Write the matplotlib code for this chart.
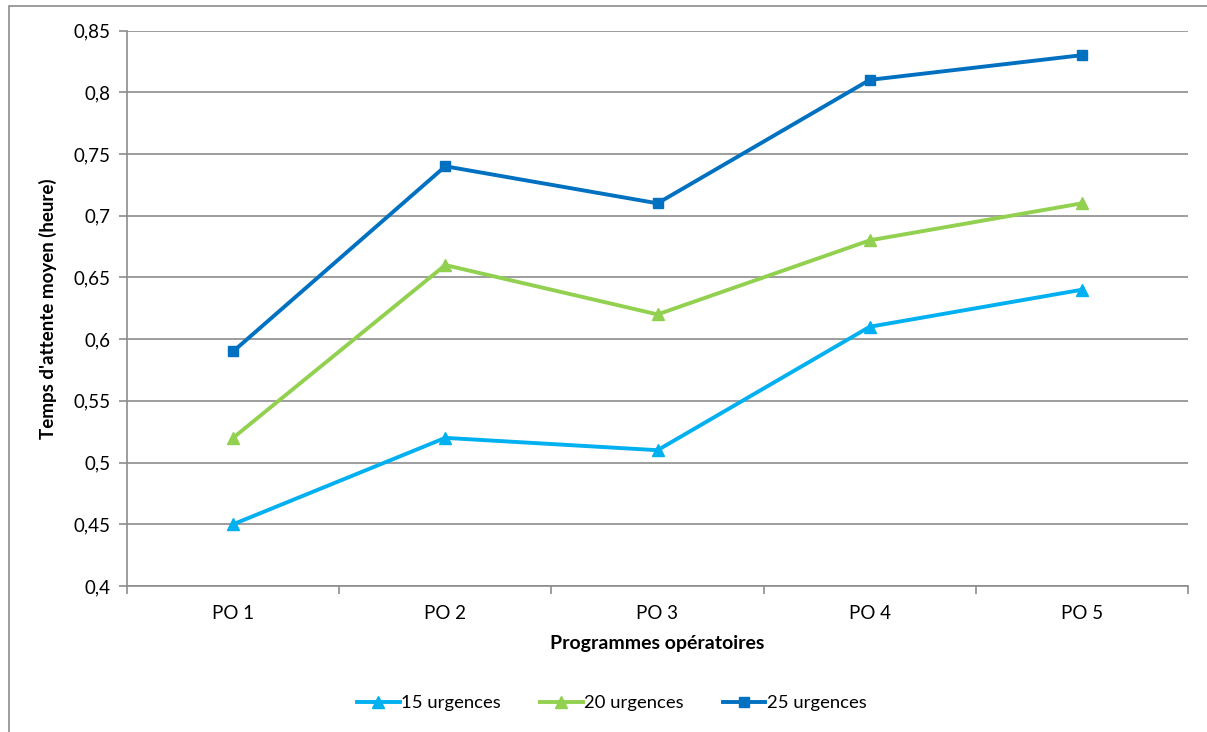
import matplotlib.pyplot as plt
from matplotlib.patches import Rectangle
from matplotlib.ticker import FixedLocator, FuncFormatter

plt.rcParams['font.family'] = ['Lato', 'DejaVu Sans']

# données
categories = ["PO 1", "PO 2", "PO 3", "PO 4", "PO 5"]
urg15 = [0.45, 0.52, 0.51, 0.61, 0.64]
urg20 = [0.52, 0.66, 0.62, 0.68, 0.71]
urg25 = [0.59, 0.74, 0.71, 0.81, 0.83]
series_names = ["15 urgences", "20 urgences", "25 urgences"]
y_ticks = [0.4, 0.45, 0.5, 0.55, 0.6, 0.65, 0.7, 0.75, 0.8, 0.85]

W, H = 1207, 732
fig = plt.figure(figsize=(W / 100, H / 100), dpi=100)
ax = fig.add_axes([127 / W, 1 - 586 / H, (1188 - 127) / W, (586 - 30.5) / H])

x = list(range(len(categories)))
ax.plot(x, urg15, color="#00B0F0", lw=2.8, marker="^", ms=8, label=series_names[0])
ax.plot(x, urg20, color="#92D050", lw=2.8, marker="^", ms=8, label=series_names[1])
ax.plot(x, urg25, color="#0070C0", lw=2.8, marker="s", ms=7, label=series_names[2])

ax.set_xlim(-0.5, len(categories) - 0.5)
ax.set_ylim(0.4, 0.85)
ax.set_yticks(y_ticks)
ax.yaxis.set_major_formatter(FuncFormatter(lambda v, p: f"{v:.2f}".rstrip("0").rstrip(".").replace(".", ",")))
ax.set_xticks(x)
ax.set_xticklabels(categories)
ax.xaxis.set_minor_locator(FixedLocator([i - 0.5 for i in range(len(categories) + 1)]))

ax.grid(axis="y", color="#8C8C8C", lw=1.2)
ax.set_axisbelow(True)
for s in ["top", "right"]:
    ax.spines[s].set_visible(False)
for s in ["left", "bottom"]:
    ax.spines[s].set_color("#8C8C8C")
    ax.spines[s].set_linewidth(1.2)

ax.tick_params(axis="y", length=6, color="#8C8C8C", labelsize=13.5, pad=6, width=1.2)
ax.tick_params(axis="x", which="major", length=0, labelsize=13.5, pad=14)
ax.tick_params(axis="x", which="minor", length=6, color="#8C8C8C", width=1.2)

ax.set_ylabel("Temps d'attente moyen (heure)", fontsize=13.5, fontweight="bold", labelpad=12)
ax.set_xlabel("Programmes opératoires", fontsize=14, fontweight="bold", labelpad=9)

fig.legend(loc="center", bbox_to_anchor=(612 / W, 1 - 703 / H), ncol=3, frameon=False,
           fontsize=13.3, handlelength=2.3, handletextpad=0.1, columnspacing=2.1)

# cadre du graphique
fig.patches.append(Rectangle((9 / W, -0.1), 1.2, 1 - 6 / H + 0.1, transform=fig.transFigure,
                             fill=False, edgecolor="#8C8C8C", lw=1.2))

fig.savefig("out.png", dpi=100)
